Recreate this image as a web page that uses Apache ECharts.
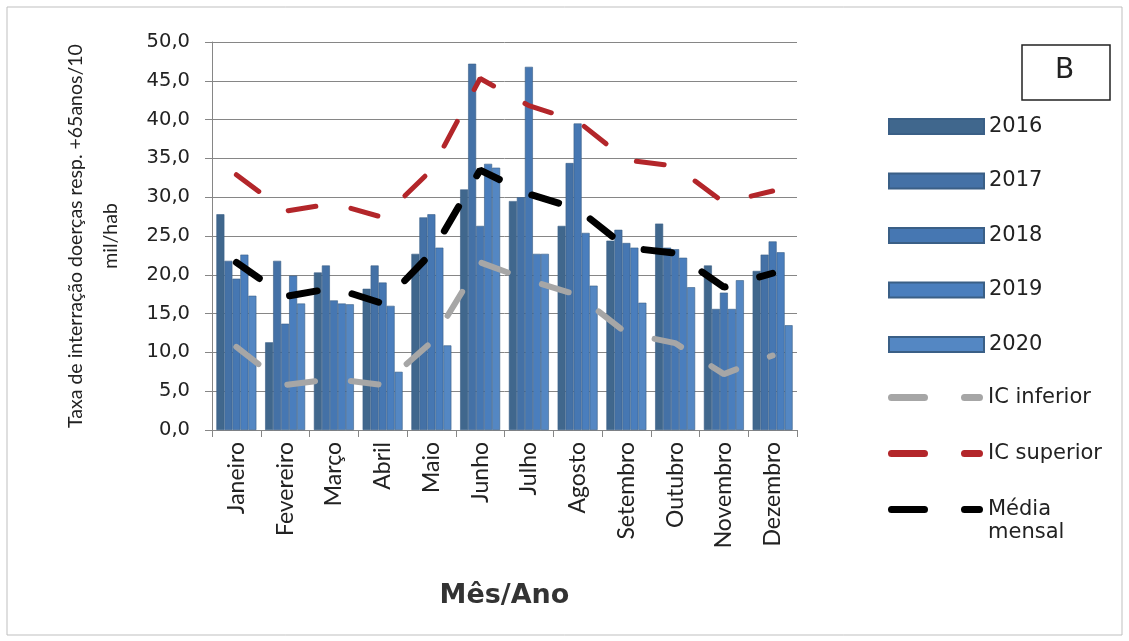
<!DOCTYPE html>
<html>
<head>
<meta charset="utf-8">
<script src="https://cdn.jsdelivr.net/npm/echarts@6/dist/echarts.min.js"></script>
<style>
  html, body { margin: 0; padding: 0; background: #fff; }
  #chart { width: 1129px; height: 641px; }
</style>
</head>
<body>
<div id="chart"></div>
<script>
// meses
const months = ['Janeiro', 'Fevereiro', 'Março', 'Abril', 'Maio', 'Junho', 'Julho', 'Agosto', 'Setembro', 'Outubro', 'Novembro', 'Dezembro'];
// taxas por ano
const y2016 = [27.8, 11.3, 20.3, 18.2, 22.7, 31.0, 29.5, 26.3, 24.4, 26.6, 21.2, 20.5];
const y2017 = [21.8, 21.8, 21.2, 21.2, 27.4, 47.2, 30.0, 34.4, 25.8, 23.5, 15.6, 22.6];
const y2018 = [19.5, 13.7, 16.7, 19.0, 27.8, 26.3, 46.8, 39.5, 24.1, 23.3, 17.7, 24.3];
const y2019 = [22.6, 19.9, 16.3, 16.0, 23.5, 34.3, 22.7, 25.4, 23.5, 22.2, 15.6, 22.9];
const y2020 = [17.3, 16.3, 16.2, 7.5, 10.9, 33.8, 22.7, 18.6, 16.4, 18.4, 19.3, 13.5];
// intervalos e media
const icInferior = [10.7, 5.8, 6.6, 5.8, 11.3, 21.6, 19.3, 17.4, 12.5, 11.2, 7.2, 9.6];
const icSuperior = [32.9, 28.2, 29.2, 27.4, 33.5, 45.3, 41.8, 39.8, 34.8, 34.0, 29.3, 30.8];
const mediaMensal = [21.6, 17.2, 18.3, 16.3, 22.8, 33.5, 30.4, 28.5, 23.5, 22.8, 18.4, 20.2];
const yTicks = [0, 50, 5];

// texto horizontal largo (a imagem original esta esticada na horizontal)
const WIDE = '"DejaVu Sans", sans-serif';
const NARROW = 'Lato, "Open Sans", sans-serif';
// icone tracejado da legenda (dois tracos arredondados)
const DASH_ICON = 'path://M3.5,0 L36.5,0 A3.5,3.5 0 0 1 36.5,7 L3.5,7 A3.5,3.5 0 0 1 3.5,0 Z ' +
  'M76.5,0 L91.5,0 A3.5,3.5 0 0 1 91.5,7 L76.5,7 A3.5,3.5 0 0 1 76.5,0 Z';

const chart = echarts.init(document.getElementById('chart'));

const barYears = [
  { name: '2016', data: y2016, color: '#40678d' },
  { name: '2017', data: y2017, color: '#4471a6' },
  { name: '2018', data: y2018, color: '#4677b2' },
  { name: '2019', data: y2019, color: '#4a7ebd' },
  { name: '2020', data: y2020, color: '#5487c3' }
];

const barSeries = barYears.map((b) => ({
  name: b.name,
  type: 'bar',
  data: b.data,
  barGap: '0%',
  barCategoryGap: '18%',
  itemStyle: { color: b.color, borderColor: '#3a5f86', borderWidth: 0.6 },
  emphasis: { disabled: true },
  z: 2
}));

const lineSeries = (name, data, color, width) => ({
  name: name,
  type: 'line',
  data: data,
  symbol: 'none',
  lineStyle: { color: color, width: width, type: [28, 36], cap: 'round' },
  itemStyle: { color: color },
  emphasis: { disabled: true },
  z: 5
});

const legendText = { fontFamily: WIDE, fontSize: 21, color: '#222', lineHeight: 20 };

const option = {
  animation: false,
  backgroundColor: '#fff',
  grid: { left: 212, right: 332, top: 42, bottom: 211 },
  legend: [
    {
      orient: 'vertical',
      left: 883,
      top: 111,
      itemWidth: 95,
      itemHeight: 15,
      itemGap: 33.5,
      icon: 'rect',
      textStyle: legendText,
      data: ['2016', '2017', '2018', '2019', '2020']
    },
    {
      orient: 'vertical',
      left: 883,
      top: 382,
      itemWidth: 95,
      itemHeight: 7,
      itemGap: 35,
      icon: DASH_ICON,
      formatter: (n) => (n === 'Média mensal' ? 'Média' : n),
      textStyle: legendText,
      data: ['IC inferior', 'IC superior', 'Média mensal']
    }
  ],
  xAxis: {
    type: 'category',
    data: months,
    name: 'Mês/Ano',
    nameLocation: 'middle',
    nameGap: 152,
    nameTextStyle: { fontFamily: WIDE, fontSize: 27, fontWeight: 'bold', color: '#333' },
    axisLine: { lineStyle: { color: '#868686', width: 1 } },
    axisTick: { show: true, length: 7, lineStyle: { color: '#868686' } },
    axisLabel: { rotate: 90, margin: 12, fontFamily: NARROW, fontSize: 23, color: '#222' }
  },
  yAxis: {
    type: 'value',
    min: yTicks[0],
    max: yTicks[1],
    interval: yTicks[2],
    name: 'Taxa de interração doerças resp. +65anos/10\nmil/hab',
    nameLocation: 'middle',
    nameGap: 84,
    nameTextStyle: { fontFamily: NARROW, fontSize: 19.5, color: '#222', lineHeight: 35 },
    axisLine: { show: true, lineStyle: { color: '#868686' } },
    axisTick: { show: true, length: 7, lineStyle: { color: '#868686' } },
    splitLine: { lineStyle: { color: '#868686', width: 1 } },
    axisLabel: {
      margin: 22,
      fontFamily: WIDE,
      fontSize: 19.5,
      color: '#222',
      formatter: (v) => v.toFixed(1).replace('.', ',')
    }
  },
  series: barSeries.concat([
    lineSeries('IC inferior', icInferior, '#a6a6a6', 6),
    lineSeries('IC superior', icSuperior, '#b3262a', 5),
    lineSeries('Média mensal', mediaMensal, '#000000', 7)
  ]),
  graphic: [
    {
      type: 'rect',
      shape: { x: 7, y: 7, width: 1115, height: 628 },
      style: { fill: 'none', stroke: '#bfbfbf', lineWidth: 1 },
      silent: true
    },
    {
      type: 'rect',
      shape: { x: 1022, y: 45, width: 88, height: 55 },
      style: { fill: '#fff', stroke: '#222', lineWidth: 1.5 },
      silent: true
    },
    {
      type: 'text',
      left: 988,
      top: 522,
      style: { text: 'mensal', font: '21px ' + WIDE, fill: '#222' },
      silent: true
    },
    {
      type: 'text',
      left: 1055,
      top: 57,
      style: { text: 'B', font: '28px ' + WIDE, fill: '#222' },
      silent: true
    }
  ]
};

chart.setOption(option);
</script>
</body>
</html>
